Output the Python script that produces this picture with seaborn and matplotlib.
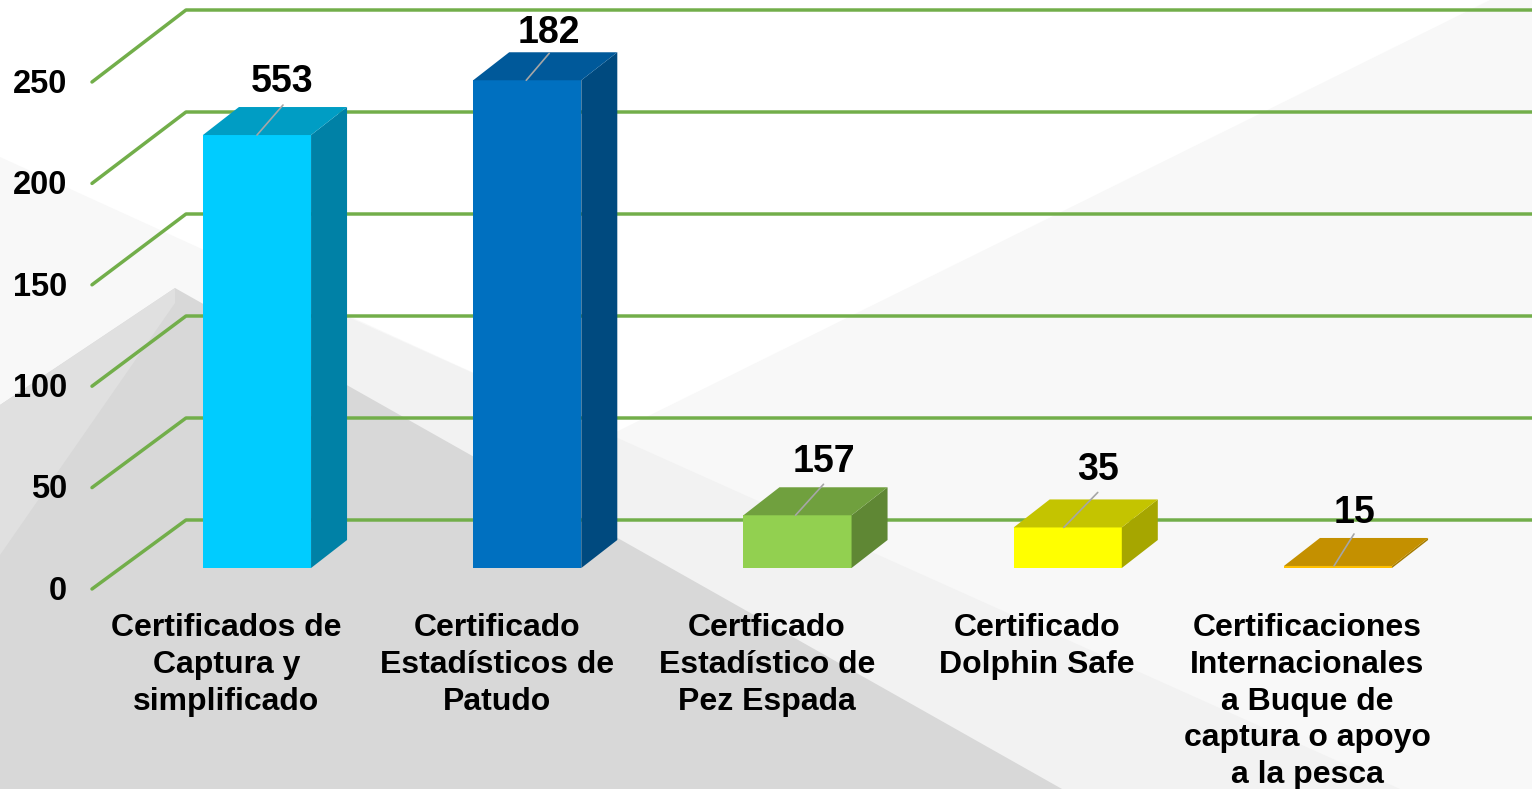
import matplotlib
matplotlib.use("Agg")
import matplotlib.pyplot as plt
from matplotlib.patches import Polygon
from matplotlib.transforms import Affine2D, IdentityTransform
import pandas as pd
import seaborn as sns

categories = [
    "Certificados de\nCaptura y\nsimplificado",
    "Certificado\nEstadísticos de\nPatudo",
    "Certficado\nEstadístico de\nPez Espada",
    "Certificado\nDolphin Safe",
    "Certificaciones\nInternacionales\na Buque de\ncaptura o apoyo\na la pesca",
]
heights = [213.5, 240.5, 26, 20, 1]
value_labels = ["553", "182", "157", "35", "15"]
y_ticks = [0, 50, 100, 150, 200, 250]

front_colors = ["#00CCFF", "#0070C0", "#92D050", "#FFFF00", "#FFC000"]
side_colors = ["#0081A6", "#004A7F", "#5F8734", "#A6A600", "#A67C00"]
top_colors = ["#009DC4", "#00599A", "#70A03E", "#C4C400", "#C49000"]

# leader lines and value labels, offsets in pixels from the bar's top centre
leader_start_dx = [0, -1, -2, -4, -4]
leader_end_dx = [26, 22, 26, 30, 16]
leader_end_dy = [30, 27, 31, 35, 32]
label_dx = [25, 22, 26, 30, 17]
label_dy = [53, 47, 53, 57, 53]

W, H = 1532, 789
GREEN = "#72AE4A"
PX = 0.72  # points per pixel at dpi 100

sns.set_style("white")
plt.rcParams["font.family"] = ["Liberation Sans", "DejaVu Sans"]
plt.rcParams["font.weight"] = "bold"

fig = plt.figure(figsize=(W / 100, H / 100), dpi=100, facecolor="white")

# background shapes, given in image pixels
shapes = [
    ("#F8F8F8", [(1490, 0), (W, 0), (W, H), (0, H), (0, 157), (610, 435)]),
    ("#F2F2F2", [(348, 317), (1400, H), (400, H), (175, 305)]),
    ("#D8D8D8", [(175, 288), (0, 405), (0, H), (1062, H)]),
    ("#E0E0E0", [(175, 288), (0, 405), (0, 555), (175, 303)]),
]
for color, pts in shapes:
    fig.add_artist(Polygon([(x, H - y) for x, y in pts], closed=True, fc=color, ec="none",
                           transform=IdentityTransform(), zorder=-5))

# axes = the front plane of the 3d box
left, right, bottom, top = 92, W, 589, 82
ax = fig.add_axes([left / W, 1 - bottom / H, (right - left) / W, (bottom - top) / H])
ax.patch.set_alpha(0)

df = pd.DataFrame({"cat": categories, "value": heights})
sns.barplot(data=df, x="cat", y="value", hue="cat", palette=front_colors, saturation=1,
            width=0.4, legend=False, ax=ax, zorder=3, linewidth=0)

step = 270.25
first_label_x = 226.5
ax.set_xlim((left - first_label_x) / step, (right - first_label_x) / step)
ax.set_ylim(0, 250)
px_per_val = (bottom - top) / 250

ax.set_yticks(y_ticks)
ax.tick_params(axis="y", length=0, pad=18, labelsize=23.5, labelcolor="black")
ax.tick_params(axis="x", length=0, pad=17.5, labelsize=23, labelcolor="black")
for lab in ax.get_xticklabels():
    lab.set_linespacing(1.29)
for lab in ax.get_yticklabels():
    lab.set_transform(lab.get_transform() + Affine2D().translate(0, 1.2))
ax.set_xlabel("")
ax.set_ylabel("")
sns.despine(ax=ax, left=True, bottom=True, right=True, top=True)

# walls: each gridline goes back from the front plane and then runs to the right
wall_dx = 94 / step
for v in y_ticks:
    back = v + (69 + 3 * v / 250) / px_per_val
    ax.plot([ax.get_xlim()[0], ax.get_xlim()[0] + wall_dx, ax.get_xlim()[1]], [v, back, back],
            color=GREEN, lw=2.5, clip_on=False, zorder=1, solid_capstyle="round")

# bars stand a third of the way into the box
bar_trans = ax.transData + Affine2D().translate(30.5, 21)
depth_x = 36 / step
depth_y = 28 / px_per_val
half = 0.2
for i, patch in enumerate(ax.patches[:len(heights)]):
    patch.set_transform(bar_trans)
    patch.set_clip_on(False)
    h = heights[i]
    x0, x1 = i - half, i + half
    ax.add_patch(Polygon([(x1, 0), (x1 + depth_x, depth_y), (x1 + depth_x, h + depth_y), (x1, h)],
                         fc=side_colors[i], ec="none", transform=bar_trans, clip_on=False, zorder=3))
    ax.add_patch(Polygon([(x0, h), (x0 + depth_x, h + depth_y), (x1 + depth_x, h + depth_y), (x1, h)],
                         fc=top_colors[i], ec="none", transform=bar_trans, clip_on=False, zorder=3))
    start = (i + leader_start_dx[i] / step, h)
    ax.annotate("", xy=start, xycoords=bar_trans,
                xytext=((leader_end_dx[i] - leader_start_dx[i]) * PX, leader_end_dy[i] * PX),
                textcoords="offset points",
                arrowprops=dict(arrowstyle="-", color="#A6A6A6", lw=1.2, shrinkA=0, shrinkB=0),
                zorder=5, annotation_clip=False)
    ax.annotate(value_labels[i], xy=(i, h), xycoords=bar_trans,
                xytext=(label_dx[i] * PX, label_dy[i] * PX),
                textcoords="offset points", ha="center", va="center", fontsize=27,
                fontweight="bold", color="black", zorder=6, annotation_clip=False)

fig.savefig("out.png", dpi=100)
